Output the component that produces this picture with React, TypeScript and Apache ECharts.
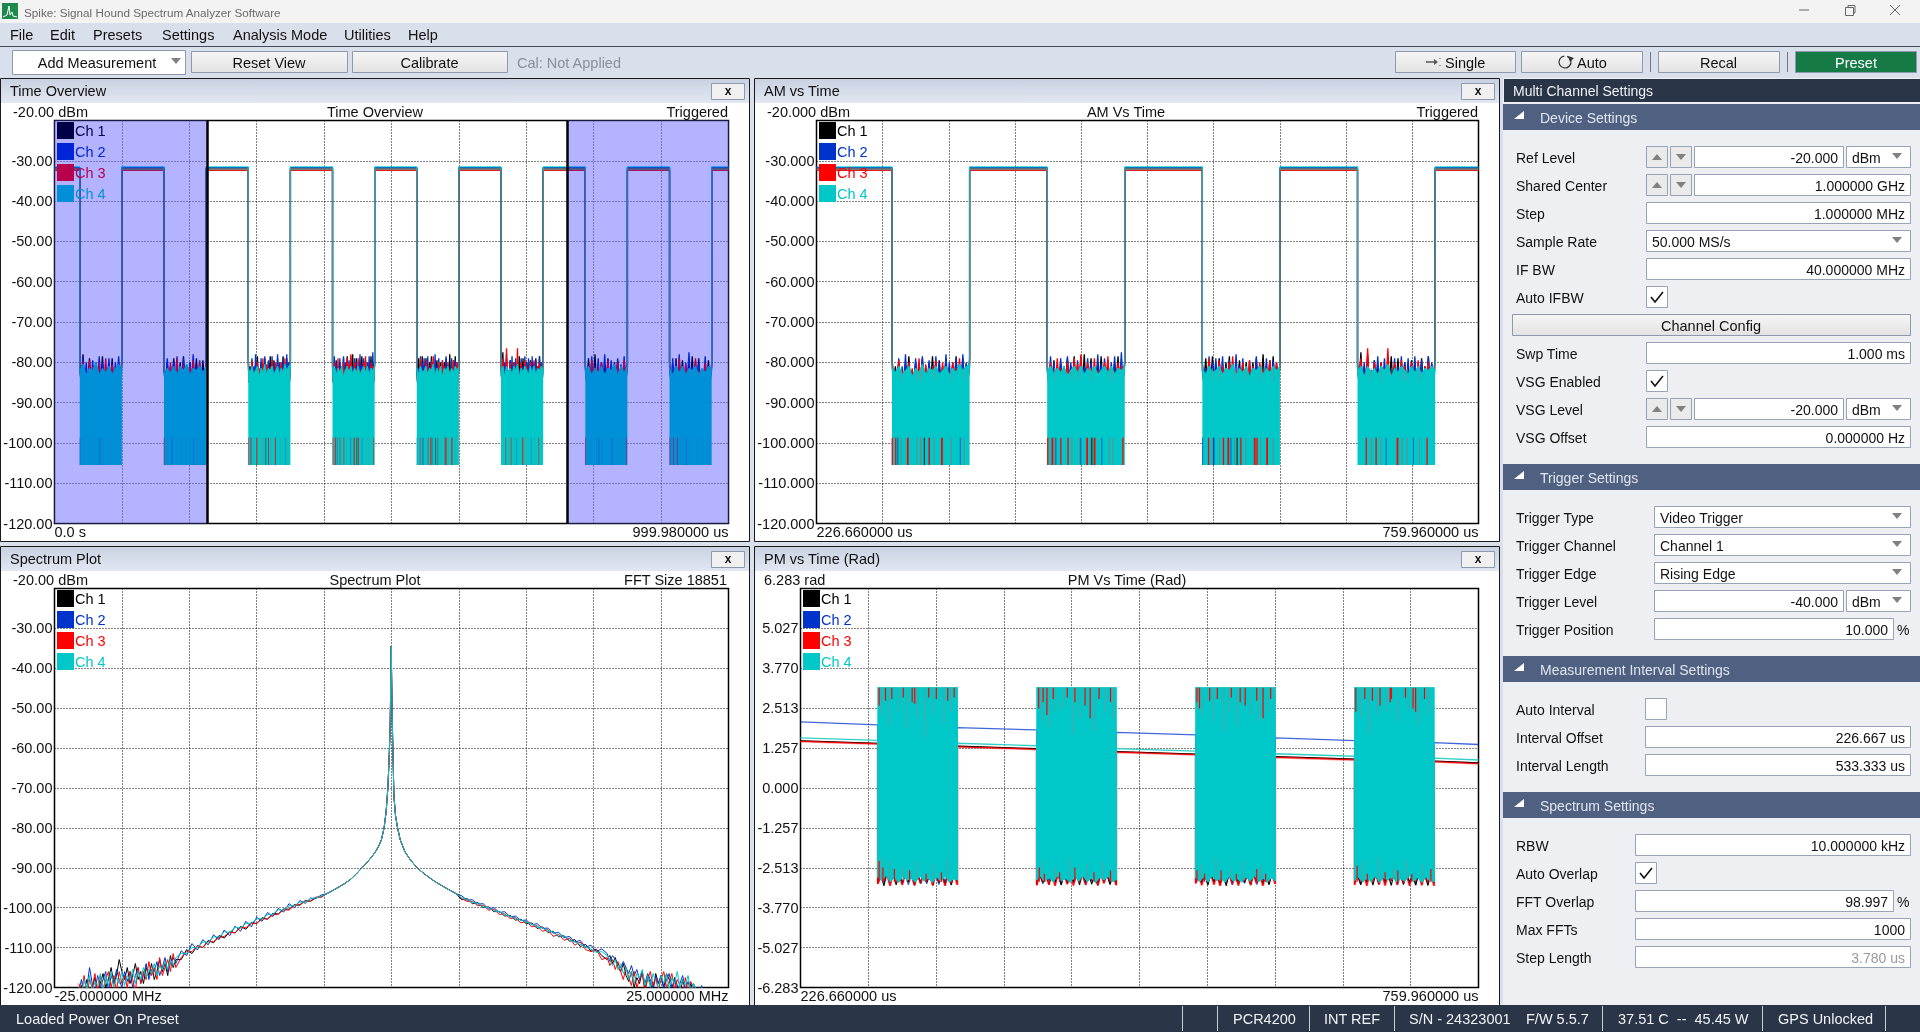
import React, { useEffect, useRef } from "react";
import * as echarts from "echarts";

const FONT = '"Liberation Sans", Arial, sans-serif';
const channelNames = ["Ch 1", "Ch 2", "Ch 3", "Ch 4"];
const clearColors = ["#000000", "#0033cc", "#ff0000", "#00c8c8", "#808080", "#7a7a7a"];
const shadeColors = ["#000048", "#0024d8", "#b8004c", "#0090d8", "#2f73b4", "#5a5a8a"];

// ---- time domain (dBm)
const burstStarts = [37.5, 162.5, 287.5, 412.5, 537.5, 662.5, 787.5, 912.5];
const burstWidth = 62.5;
const burstFloor = -105.5;
const burstTrough = -85;
const stripeTop = -98.7;
const highLevels = [-32.0, -31.7, -32.4, -31.5];
const bandLevel = -32.1;

const ch1Tops = [
  [-80, -78, -82, -79, -83, -80, -81, -78.5, -82, -80, -79, -83, -80, -79],
  [-82, -80, -81, -79, -83, -80, -78.5, -81, -80, -82, -79, -81, -79.5, -80],
  [-79, -81, -80, -83, -80.5, -78.5, -82, -80, -81.5, -79, -83, -80, -78.5, -82, -79.5, -81, -79, -82, -80, -78.5, -81.5, -79, -80.5, -79],
  [-80, -82, -79.5, -81, -80, -83, -79, -81, -78.5, -82, -80, -78, -81, -79, -83, -80, -78.5, -81, -79.5, -82, -80, -78.5, -81, -80],
  [-82, -79, -80.5, -78.5, -81, -79, -82, -80, -78.5, -81, -83, -79.5, -81, -80, -82.5, -80, -79, -81, -78, -81.5, -79.5, -78.5, -81, -80],
  [-80, -77.5, -81, -79, -82.5, -79.5, -81, -80, -83, -80, -78.5, -81, -79, -82, -80, -81, -79.5, -80, -82, -79, -81, -78.5, -80.5, -79],
  [-81, -79, -80.5, -78, -82, -80, -81, -79, -83, -80, -79.5, -82, -80, -80],
  [-80, -82, -79, -81, -79.5, -83, -80, -78.5, -81, -79, -82, -80, -79.5, -81],
];
const ch2Tops = [
  [-81, -79, -80, -82, -79.5, -81, -78.5, -80, -82, -79, -81, -80, -78.5, -80],
  [-81, -79, -82, -80, -78.5, -81, -79, -83, -80, -78, -81, -79.5, -82, -79],
  [-78.5, -82, -79, -81, -78, -80, -82, -79, -80.5, -78.5, -81, -79.5, -82, -78.5, -80, -81.5, -78, -80, -82, -79, -80.5, -78, -80, -81],
  [-81, -78.5, -80, -82, -79, -81, -78.5, -80, -82, -79.5, -78.5, -81, -79, -80, -82, -78, -80.5, -79, -81.5, -80, -78.5, -81, -77.5, -79.5],
  [-80, -81.5, -78.5, -80, -79, -82, -78.5, -81, -79.5, -80, -78, -81, -79, -82, -79.5, -81, -78.5, -80.5, -82, -79, -81, -79.5, -80, -81],
  [-81, -79, -80, -78, -82, -79.5, -78.5, -81, -79, -80.5, -82, -79, -81, -78.5, -80, -79, -81, -78.5, -80, -79.5, -81.5, -78.5, -80, -79],
  [-80, -82, -78.5, -81, -79, -80, -78, -81, -79.5, -82, -79, -80.5, -78.5, -81],
  [-81, -79, -80, -78, -82, -80, -77.5, -81, -79.5, -80, -82, -78.5, -81, -80],
];
const ch3Tops = [
  [-82, -80, -83, -79.5, -81, -84, -80, -82, -79, -83.5, -80.5, -82, -81, -80],
  [-81, -83, -80, -81.5, -79, -84, -80.5, -82, -81, -79.5, -83, -80, -82, -80],
  [-80, -83, -79.5, -82, -84, -80, -81.5, -83, -79, -82, -80.5, -84, -81, -79.5, -83, -80, -82, -84.5, -80, -81.5, -79, -83, -81, -80],
  [-82, -80, -84, -79, -81.5, -84.5, -80, -82, -79, -80.5, -78, -83, -80, -81.5, -79, -82, -83.5, -80, -78.5, -82, -84, -80, -81, -80],
  [-80.5, -83, -79, -82, -84, -79.5, -81, -83, -80, -78.5, -82, -84, -80, -83, -79.5, -81, -83, -80, -82, -84, -79.5, -82, -80, -81],
  [-81, -79, -83, -76.5, -82, -80, -84, -80, -81.5, -76.5, -82.5, -80, -83, -79.5, -81, -84, -80, -82.5, -79.5, -83, -81, -80, -82.5, -80],
  [-81, -84, -79.5, -83, -81, -80, -83, -79.5, -82, -84, -80, -82, -79.5, -81],
  [-80, -83, -81, -79, -84, -80.5, -82, -83, -79, -82, -84.5, -80, -82, -81],
];
const ch4Tops = [
  [-82, -80.5, -83, -81.5, -82, -80, -83, -81.5, -82.5, -81, -83, -81.5, -80.5, -82],
  [-83, -81.5, -82.5, -81, -83, -81, -82, -80.5, -83, -81.5, -82, -81, -82.5, -81],
  [-81.5, -82.5, -81, -83, -82, -81, -83.5, -81.5, -82.5, -80.5, -83, -81.5, -82, -81, -83, -82, -81, -83, -81.5, -82.5, -80.5, -82, -81, -80.5],
  [-82, -81, -83, -81.5, -82.5, -81, -83.5, -82, -81, -82.5, -81, -83, -81.5, -82.5, -81, -83, -82, -81, -82.5, -81, -83, -81.5, -82, -81],
  [-81.5, -83, -81, -82.5, -82, -81, -83, -81.5, -82, -80.5, -83, -81.5, -82.5, -81, -83.5, -81.5, -82, -81, -83, -81.5, -82.5, -81, -82, -81],
  [-82, -81, -83.5, -81, -82.5, -81.5, -83, -81, -82, -80.5, -83.5, -81.5, -82.5, -81, -82, -83, -81, -82.5, -81, -83, -81.5, -82, -81, -82],
  [-82, -81, -83, -81.5, -82.5, -81, -83, -81.5, -82, -80.5, -83, -81, -82.5, -81],
  [-81.5, -83, -81, -82.5, -81, -83, -81.5, -82, -81, -83, -81.5, -82.5, -81, -82],
];
// stripes at the foot of each burst: microseconds after the burst start
const redStripes = [
  [], [0.2], [0.2, 3, 12.5, 12.9, 30, 40, 40.4], [0.5, 4, 4.4, 11, 16.8, 32, 32.4, 38, 38.4, 61],
  [5, 17, 20.7, 21.1, 31, 42, 42.4, 44, 52, 52.4], [7, 15, 32, 32.4, 56], [0.3, 61], [0.4, 6, 12],
];
const grayStripes = [
  [6, 14, 20, 28, 34, 47, 55], [5, 11, 18, 25, 32, 39, 50, 58], [7.4, 20, 23, 23.4, 34, 47.6, 58], [6, 20, 26, 35, 50, 53],
  [8, 14, 26, 35, 47, 57], [11, 19, 36, 40, 50], [8, 16, 25, 38, 47, 54], [10, 18, 30, 41, 49, 57],
];
const blueStripes = [
  [0.1, 30], [12, 44], [4.7, 30, 55], [7, 27, 44], [0.2, 9, 9.4, 23], [23, 45], [20, 40], [25],
];
const blackStripes = [[], [], [26], [36], [28], [], [], []];

// ---- spectrum (MHz / dBm)
const leftFreqs = [-23.2, -23, -22.8, -22.6, -22.4, -22.2, -22, -21.8, -21.6, -21.4, -21.2, -21, -20.8, -20.6, -20.4, -20.2, -20, -19.8, -19.6, -19.4, -19.2, -19, -18.8, -18.6, -18.4, -18.2, -18, -17.8, -17.6, -17.4, -17.2, -17, -16.8, -16.6, -16.4, -16.2, -16,
  -15.6, -15.2, -14.8, -14.4, -14, -13.6, -13.2, -12.8, -12.4, -12, -11.6, -11.2, -10.8, -10.4, -10, -9.6, -9.2, -8.8, -8.4, -8, -7.6, -7.2, -6.8, -6.4, -6, -5.6, -5.2];
const centerFreqs = [-4.8, -4, -3.5, -3, -2.6, -2.25, -1.9, -1.6, -1.3, -1.1, -0.9, -0.75, -0.55, -0.4, -0.27, -0.18, -0.1, -0.05, -0.02, 0.01, 0.04, 0.07, 0.12, 0.18, 0.3, 0.45, 0.65, 1, 1.4, 1.9, 2.5, 3.2, 4, 4.8];
const centerLevels = [-96.5, -95, -94, -92.8, -91.5, -90.2, -89, -87.8, -86.5, -85.5, -84.2, -83, -80, -76, -70, -63, -55, -42, -34.5, -42, -50, -55, -63, -72, -77, -80, -83, -86, -88, -90, -91.7, -93.4, -95, -96.5];
const rightFreqs = [5.2, 5.6, 6, 6.4, 6.8, 7.2, 7.6, 8, 8.4, 8.8, 9.2, 9.6, 10, 10.4, 10.8, 11.2, 11.6, 12, 12.4, 12.8, 13.2, 13.6, 14, 14.4, 14.8, 15.2, 15.6,
  16, 16.2, 16.4, 16.6, 16.8, 17, 17.2, 17.4, 17.6, 17.8, 18, 18.2, 18.4, 18.6, 18.8, 19, 19.2, 19.4, 19.6, 19.8, 20, 20.2, 20.4, 20.6, 20.8, 21, 21.2, 21.4, 21.6, 21.8, 22, 22.2, 22.4, 22.6, 22.8, 23, 23.2];
const ch1Left = [-122, -119.5, -121, -118, -123, -120, -117.5, -121, -119, -116.5, -120, -118, -115, -119, -117, -113, -116, -118, -115, -119, -117, -114, -118, -116, -119, -115, -117, -114, -118, -116, -113, -116, -114, -117, -112, -115, -113,
  -113, -110.5, -111.5, -109.5, -110, -108.2, -108.8, -107, -107.6, -106, -106.3, -104.7, -105.4, -103.7, -104, -102.5, -102.9, -101.4, -101.6, -100.3, -100.4, -99.2, -99.4, -98.2, -98.4, -97.5, -97.2];
const ch2Left = [-121, -118, -122, -120, -115, -119, -121, -117, -120, -118, -116, -121, -117, -119, -115.5, -118, -120, -116, -118.5, -116, -120, -117, -115, -119, -117, -114, -118, -115.5, -116, -113.5, -117, -115, -112.5, -116, -114, -112.5, -114,
  -110.8, -112, -109, -110.6, -108, -109.3, -106.8, -108, -105.6, -107, -104.6, -105.9, -103.4, -104.8, -102.4, -103.4, -101.2, -102.2, -100.2, -101.1, -99, -100, -98.2, -98.9, -97.6, -97.7, -96.8];
const ch3Left = [-119, -121, -117, -122, -118, -120, -116.5, -122, -117, -120.5, -118, -116, -120, -117, -121, -116, -119, -117, -120, -116, -118, -121, -115, -119, -116, -118, -113.5, -117, -115, -118, -112.5, -117, -115, -113, -116, -111.5, -115,
  -112.5, -111, -111, -109.5, -110, -108.5, -108.5, -107.5, -107.2, -106.2, -106.3, -105, -105, -104, -103.9, -102.8, -102.8, -101.8, -101.6, -100.5, -100.6, -99.4, -99.2, -98.4, -98.3, -97.3, -97.4];
const ch4Left = [-120, -122, -118, -120.5, -117, -121, -118.5, -119.5, -116.5, -121, -117, -119.5, -116, -120, -117.5, -119, -116, -119.5, -117, -118, -115.5, -119, -116, -118, -115, -117.5, -115.5, -116.5, -114, -117, -114.5, -115.5, -113.5, -115.5, -113, -114.5, -112.5,
  -111.5, -111.5, -110, -110, -108.6, -108.7, -107.3, -107.4, -106, -106.2, -104.9, -105.1, -103.9, -103.9, -102.8, -102.8, -101.7, -101.7, -100.5, -100.6, -99.5, -99.5, -98.6, -98.6, -97.8, -97.5, -97.1];
const ch1Right = [-98, -97.7, -99, -98.7, -100, -99.8, -101, -100.9, -102.1, -101.9, -103.1, -102.9, -104, -103.8, -105.2, -104.8, -106.2, -105.9, -107.3, -107, -108.4, -108, -109.7, -109.2, -110.9, -110.4, -112,
  -113, -112, -114, -112.5, -115, -116, -114, -117, -118.5, -116, -120, -117.5, -119, -116, -120.5, -117, -119, -121, -116.5, -119, -117, -120, -116.5, -118, -121, -117.5, -119.5, -122, -118, -120.5, -122, -119, -121, -123, -120, -122, -121];
const ch2Right = [-97, -98.1, -98, -99.1, -99, -100.3, -100, -101.2, -101, -102.3, -102.1, -103.2, -103.1, -104.3, -104, -105.2, -105.1, -106.4, -106.2, -107.5, -107.2, -108.6, -108.2, -109.9, -109.4, -111, -110.3,
  -111.5, -113.5, -112, -113, -114, -115, -113.5, -115, -116.5, -114.5, -117, -115.5, -118, -116, -119, -116.5, -118, -120, -117, -119, -117, -120.5, -118, -116.5, -120, -118, -121, -119, -117, -120.5, -118.5, -121, -119, -120.5, -122, -119.5, -122];
const ch3Right = [-97.7, -98.4, -98.4, -99.5, -99.4, -100.6, -100.4, -101.7, -101.5, -102.7, -102.5, -103.8, -103.4, -104.8, -104.5, -105.9, -105.5, -107.2, -106.7, -108.2, -107.6, -109.4, -108.6, -110.5, -111, -110.5, -113,
  -112.5, -114.5, -113, -115.5, -113.5, -116, -118, -115, -117.5, -119.5, -116, -120, -118, -116.5, -121, -118, -116, -119.5, -117.5, -120.5, -118, -116, -120, -118.5, -116.5, -120.5, -118, -119.5, -122, -117.5, -121, -118.5, -120, -122.5, -120, -123, -121];
const ch4Right = [-97.5, -97.9, -98.7, -98.9, -99.8, -100, -100.8, -101, -101.8, -102.1, -102.7, -103.1, -103.6, -104.1, -104.8, -105.1, -105.8, -106.1, -107.1, -107.1, -108.1, -108.6, -109.2, -109.8, -110.4, -111.2, -111,
  -112, -113, -114.5, -113, -115.5, -114, -116.5, -115, -118, -116, -119, -116.5, -117.5, -115.5, -119.5, -117, -120, -116.5, -118.5, -120, -117, -119, -116.5, -120.5, -117.5, -119, -116, -120, -118, -119.5, -117, -121, -119, -120.5, -122, -120, -122];

// ---- phase (rad)
const pmTimes = [226.66, 287.5, 350, 412.5, 475, 537.5, 600, 662.5, 725, 759.96];
const pmCh1High = [1.49, 1.41, 1.32, 1.24, 1.15, 1.07, 0.99, 0.91, 0.85, 0.79];
const pmCh2High = [2.08, 1.99, 1.9, 1.83, 1.75, 1.67, 1.58, 1.49, 1.43, 1.37];
const pmCh3High = [1.47, 1.39, 1.3, 1.22, 1.13, 1.05, 0.97, 0.89, 0.83, 0.77];
const pmCh4High = [1.58, 1.5, 1.41, 1.33, 1.24, 1.16, 1.08, 1.0, 0.94, 0.88];
const pmBurstStarts = [287.5, 412.5, 537.5, 662.5];
const pmTopEdge = 3.16;
const pmTrough = -2.7;
const pmCh1Bottom = [
  [-3, -3.08, -2.95, -3.05, -3.02, -2.96, -3.06, -3, -2.97, -3.07, -2.98, -3.04, -3.06, -2.96],
  [-3.05, -2.98, -3.04, -2.96, -3.06, -3, -2.95, -3.05, -2.97, -3.03, -3.07, -2.96, -3.04, -3.05],
  [-2.95, -3, -3.06, -2.97, -3.04, -3.08, -2.96, -3.03, -2.98, -3.06, -2.96, -3.02, -3.05, -2.95],
  [-3, -3.05, -2.97, -3.06, -3, -2.96, -3.07, -2.98, -3.04, -2.96, -3.06, -3.02, -3.07, -3],
];
const pmCh2Bottom = [
  [-2.9, -2.98, -3.03, -2.88, -3, -3.05, -2.92, -2.99, -3.02, -2.9, -3.04, -2.95, -3, -2.92],
  [-2.95, -3.02, -2.9, -3, -3.04, -2.9, -3, -2.94, -3.05, -2.92, -3.01, -2.96, -3.03, -2.9],
  [-3, -2.9, -3.03, -2.96, -2.88, -3.02, -3.05, -2.92, -3, -2.94, -3.04, -2.9, -3.01, -2.96],
  [-2.92, -3.04, -2.96, -2.9, -3.03, -3, -2.92, -3.05, -2.94, -3.02, -3.06, -2.9, -3, -2.95],
];
const pmCh3Bottom = [
  [-3.02, -2.92, -3.08, -2.98, -3.05, -2.9, -3.07, -3, -2.94, -3.06, -2.96, -3.08, -3, -3.05],
  [-3.06, -2.95, -3.04, -3.08, -2.92, -3.03, -3.07, -2.96, -3.05, -2.9, -3.06, -3, -2.94, -3.06],
  [-3, -3.06, -2.92, -3.04, -3.08, -2.95, -3.03, -3.07, -2.93, -3.05, -3, -3.08, -2.96, -3.02],
  [-3.05, -2.96, -3.08, -2.94, -3.04, -3.07, -2.92, -3.05, -3, -3.08, -2.95, -3.06, -2.98, -3.08],
];
const pmCh4Bottom = [
  [-2.8, -2.92, -2.75, -2.95, -2.82, -2.97, -2.78, -2.9, -2.85, -2.96, -2.76, -2.93, -2.84, -2.97, -2.8, -2.94, -2.78, -2.96, -2.86, -2.9],
  [-2.9, -2.78, -2.95, -2.82, -2.96, -2.76, -2.92, -2.85, -2.97, -2.8, -2.93, -2.76, -2.95, -2.84, -2.97, -2.8, -2.9, -2.78, -2.95, -2.88],
  [-2.82, -2.94, -2.8, -2.96, -2.76, -2.92, -2.84, -2.97, -2.78, -2.93, -2.86, -2.96, -2.8, -2.92, -2.76, -2.95, -2.84, -2.97, -2.82, -2.93],
  [-2.92, -2.8, -2.96, -2.84, -2.94, -2.76, -2.97, -2.82, -2.9, -2.78, -2.96, -2.86, -2.93, -2.76, -2.95, -2.82, -2.97, -2.8, -2.92, -2.95],
];
// [microseconds after the burst start, far end of the streak]
const pmTopRed = [
  [[1, 2.6], [6, 2.75], [11, 2.8], [20, 2.85], [27, 2.7], [29, 2.65], [40, 2.85], [46, 2.8], [55, 2.75], [60, 2.85]],
  [[1.5, 2.5], [5, 2.7], [8, 2.3], [13, 2.8], [24, 2.85], [30, 2.7], [38, 2.6], [42, 2.2], [49, 2.8], [58, 2.7]],
  [[1, 2.7], [3, 2.5], [11, 2.75], [17, 2.8], [28, 2.85], [35, 2.7], [39, 2.6], [48, 2.75], [53, 2.2], [59, 2.8]],
  [[1, 2.4], [8, 2.8], [14, 2.75], [20, 2.6], [28, 2.7], [29, 2.8], [40, 2.85], [46, 2.5], [48, 2.4], [55, 2.8]],
];
const pmTopGray = [
  [[3, 2.3], [9, 2], [16, 2.4], [23, 1.9], [31, 2.2], [37, 1.6], [44, 2.3], [52, 2], [58, 2.4]],
  [[4, 2.1], [10, 1.9], [15, 2.4], [21, 2.5], [28, 1.7], [34, 2.2], [45, 1.8], [54, 2.4], [60, 2.2]],
  [[5, 2.3], [14, 2.1], [22, 1.8], [26, 2.4], [33, 2], [43, 2.3], [50, 2.1], [57, 2.4]],
  [[5, 2.2], [11, 1.7], [18, 2.3], [25, 2.4], [34, 2.1], [42, 2.5], [50, 2], [58, 2.3]],
];
const pmBottomRed = [
  [[1, -2.3], [4, -2.5], [13, -2.55], [25, -2.6], [38, -2.7], [50, -2.65]],
  [[2, -2.5], [6, -2.7], [18, -2.65], [30, -2.5], [45, -2.65], [58, -2.6]],
  [[1, -2.6], [7, -2.7], [20, -2.6], [32, -2.7], [48, -2.55], [55, -2.7]],
  [[2, -2.45], [10, -2.7], [24, -2.65], [34, -2.6], [45, -2.7], [60, -2.55]],
];
const pmBottomGray = [
  [[3, -2.2], [9, -2.3], [20, -2.5], [31, -2.3], [43, -2.4], [55, -2.2]],
  [[5, -2.3], [14, -2.5], [26, -2.2], [40, -2.4], [52, -2.3]],
  [[4, -2.4], [16, -2.2], [28, -2.5], [37, -2.3], [51, -2.45]],
  [[6, -2.3], [19, -2.2], [30, -2.5], [41, -2.3], [54, -2.4]],
];

// ---- axes
const overviewRange = [0, 999.98];
const intervalRange = [226.66, 759.96];
const overviewEdges = [226.67, 760];
const dbmTicks = { min: -120, max: -20, interval: 10 };
const radTicks = { min: -6.283, max: 6.283, interval: 1.25664 };
const radLabels = ["-6.283", "-5.027", "-3.770", "-2.513", "-1.257", "0.000", "1.257", "2.513", "3.770", "5.027", ""];
const spectrumRange = [-25, 25];

type Pt = [number, number | null];

function timeTrace(high: number, tops: number[][]): Pt[] {
  const pts: Pt[] = [[0, high]];
  burstStarts.forEach((s, b) => {
    pts.push([s, high]);
    const v = tops[b];
    const step = burstWidth / (v.length - 1);
    v.forEach((y, i) => {
      pts.push([s + step * i, y]);
      if (i < v.length - 1) pts.push([s + step * (i + 0.45), burstTrough]);
    });
    pts.push([s + burstWidth, high]);
  });
  pts.push([1000, high]);
  return pts;
}
function timeFill(tops: number[][]): Pt[] {
  const pts: Pt[] = [];
  burstStarts.forEach((s, b) => {
    const v = tops[b];
    v.forEach((y, i) => pts.push([s + (burstWidth * i) / (v.length - 1), y]));
    pts.push([s + burstWidth, null]);
  });
  return pts;
}
function highBand(level: number): Pt[] {
  const pts: Pt[] = [[0, level]];
  burstStarts.forEach((s) => {
    pts.push([s, level], [s, null], [s + burstWidth, level]);
  });
  pts.push([1000, level]);
  return pts;
}
function stripePts(list: number[][], base: number, top: number): Pt[] {
  const pts: Pt[] = [];
  list.forEach((l, b) =>
    l.forEach((o) => {
      const t = burstStarts[b] + o;
      pts.push([t, base], [t, top], [t, null]);
    })
  );
  return pts;
}
const within = (t: number, ranges: number[][]) => ranges.some((r) => t >= r[0] && t <= r[1]);
function sliceTrace(pts: Pt[], ranges: number[][], high: number): Pt[] {
  const out: Pt[] = [];
  ranges.forEach(([lo, hi]) => {
    out.push([lo, high]);
    pts.forEach((p) => {
      if (p[0] > lo && p[0] < hi) out.push(p);
    });
    out.push([hi, high], [hi, null]);
  });
  return out;
}
function line(name: string, axis: number, data: Pt[], color: string, width = 1.2, extra: any = {}) {
  return {
    type: "line", name, xAxisIndex: axis, yAxisIndex: axis, data, symbol: "none", showSymbol: false,
    silent: true, animation: false, connectNulls: false, clip: true,
    lineStyle: { color, width, opacity: extra.opacity ?? 1 }, itemStyle: { color },
    ...(extra.area ? { areaStyle: { color, opacity: 1, origin: extra.area[0] } } : {}),
    z: extra.z ?? 2,
  };
}
function timeSeries(axis: number, x0: number, ranges: number[][], pal: string[], overview: boolean) {
  const tops = [ch1Tops, ch2Tops, ch3Tops, ch4Tops];
  const shift = (pts: Pt[]): Pt[] => pts.map((p) => [p[0] - x0, p[1]]);
  const out: any[] = [];
  [0, 1, 2].forEach((c) => {
    out.push(line(channelNames[c], axis, shift(sliceTrace(timeTrace(highLevels[c], tops[c]), ranges, highLevels[c])), pal[c], 1.3));
  });
  out.push(line("band", axis, shift(sliceTrace(highBand(bandLevel), ranges, bandLevel)), pal[5], 1.8));
  out.push(line("Ch 4 burst", axis, shift(timeFill(ch4Tops).filter((p) => within(p[0], ranges))), pal[3], 1, { area: [burstFloor], z: 3 }));
  out.push(line(channelNames[3], axis, shift(sliceTrace(timeTrace(highLevels[3], ch4Tops), ranges, highLevels[3])), pal[3], 1.3, { opacity: 0.85, z: 4 }));
  const stripe = (list: number[][], base: number, top: number, col: string, w: number, opacity: number) =>
    out.push(line("foot", axis, shift(stripePts(list, base, top).filter((p) => within(p[0], ranges))), col, w, { opacity, z: 5 }));
  const w = overview ? 0.7 : 1;
  const op = overview ? 0.55 : 0.9;
  stripe(grayStripes, burstFloor, stripeTop, pal[4], w, op);
  stripe(blueStripes, burstFloor, stripeTop, pal[1], w, op * 0.8);
  stripe(blackStripes, burstFloor, stripeTop, pal[0], w, op);
  stripe(redStripes, burstFloor, stripeTop, pal[2], overview ? 0.8 : 1.3, overview ? 0.7 : 1);
  if (!overview) stripe(grayStripes, -84.5, -81.5, "#5f9f9f", 1, 0.9);
  return out;
}
function pmTrace(high: number[], bottoms: number[][]): Pt[] {
  const x0 = intervalRange[0];
  const pts: Pt[] = [];
  pmTimes.forEach((t, i) => {
    pts.push([t - x0, high[i]]);
    const b = pmBurstStarts.indexOf(t);
    if (b >= 0) {
      const step = burstWidth / (bottoms[b].length - 1);
      bottoms[b].forEach((y, k) => {
        pts.push([t - x0 + step * k, y]);
        if (k < bottoms[b].length - 1) pts.push([t - x0 + step * (k + 0.45), pmTrough]);
      });
    }
  });
  return pts;
}
function pmStreaks(list: number[][][], base: number): Pt[] {
  const x0 = intervalRange[0];
  const pts: Pt[] = [];
  list.forEach((l, b) =>
    l.forEach(([o, end]) => {
      const t = pmBurstStarts[b] + o - x0;
      pts.push([t, base], [t, end], [t, null]);
    })
  );
  return pts;
}
function pmSeries() {
  const x0 = intervalRange[0];
  const a = 3;
  const topFill: Pt[] = [];
  const botFill: Pt[] = [];
  pmBurstStarts.forEach((s, b) => {
    topFill.push([s - x0 - 0.4, pmTopEdge], [s - x0 + burstWidth + 0.5, pmTopEdge], [s - x0 + burstWidth + 0.5, null]);
    const v = pmCh4Bottom[b];
    v.forEach((y, i) => botFill.push([s - x0 - 0.4 + ((burstWidth + 0.9) * i) / (v.length - 1), y]));
    botFill.push([s - x0 + burstWidth + 0.5, null]);
  });
  return [
    line("Ch 3", a, pmTrace(pmCh3High, pmCh3Bottom), "#ff3030", 2.4, { opacity: 0.55 }),
    line("Ch 2", a, pmTrace(pmCh2High, pmCh2Bottom), "#0033cc", 1.3, { opacity: 0.75 }),
    line("Ch 1", a, pmTrace(pmCh1High, pmCh1Bottom), "#000000", 1.1),
    line("Ch 3 foot", a, pmTrace(pmCh3High, pmCh3Bottom), "#ff0000", 1),
    line("Ch 4", a, pmTrace(pmCh4High, pmCh4Bottom), "#30d0c8", 1.4),
    line("Ch 4 top", a, topFill, "#00c8c8", 1, { area: [0], z: 3 }),
    line("Ch 4 bottom", a, botFill, "#00c8c8", 1, { area: [0], z: 3 }),
    line("streak", a, pmStreaks(pmTopGray, pmTopEdge), "#5f9f9f", 1, { z: 5 }),
    line("streak", a, pmStreaks(pmBottomGray, -2.9), "#5f9f9f", 1, { z: 5 }),
    line("streak", a, pmStreaks(pmTopRed, pmTopEdge), "#ff0000", 1.2, { z: 5 }),
    line("streak", a, pmStreaks(pmBottomRed, -2.95), "#ff0000", 1.2, { z: 5 }),
  ];
}
function spectrumSeries() {
  const tails = [[ch1Left, ch1Right], [ch2Left, ch2Right], [ch3Left, ch3Right], [ch4Left, ch4Right]];
  return tails.map(([l, r], c) => {
    const pts: Pt[] = [];
    leftFreqs.forEach((f, i) => pts.push([f, l[i]]));
    centerFreqs.forEach((f, i) => pts.push([f, centerLevels[i]]));
    rightFreqs.forEach((f, i) => pts.push([f, r[i]]));
    return line(channelNames[c], 2, pts, clearColors[c], 1);
  });
}

// ---- chrome helpers
type El = any;
const els: El[] = [];
const BIG = 14.5;
const SMALL = 14;
function rect(x: number, y: number, w: number, h: number, fill: any, stroke?: string, z = -10, lw = 1) {
  els.push({ type: "rect", silent: true, z, shape: { x, y, width: w, height: h }, style: { fill, stroke: stroke ?? "none", lineWidth: stroke ? lw : 0 } });
}
function txt(s: string, x: number, y: number, align = "left", color = "#111", size = BIG, z = 10, weight = "normal") {
  els.push({
    type: "text", silent: true, z, x, y,
    style: { text: s, fill: color, fontSize: size, fontFamily: FONT, fontWeight: weight, align, verticalAlign: "middle", textAlign: align, textVerticalAlign: "middle" },
  });
}
function poly(points: number[][], fill: string, z = 6) {
  els.push({ type: "polygon", silent: true, z, shape: { points }, style: { fill } });
}
function pline(points: number[][], stroke: string, lw = 1, z = 6) {
  els.push({ type: "polyline", silent: true, z, shape: { points }, style: { stroke, lineWidth: lw, fill: "none" } });
}
const grad = (a: string, b: string) => new echarts.graphic.LinearGradient(0, 0, 0, 1, [{ offset: 0, color: a }, { offset: 1, color: b }]);

function button(x: number, y: number, w: number, h: number, label: string, cx?: number) {
  rect(x + 0.5, y + 0.5, w, h, grad("#f6f6f6", "#e2e2e2"), "#8f99ae", 5);
  if (label) txt(label, cx ?? x + w / 2, y + h / 2 + 1, cx ? "left" : "center");
}
function field(x: number, y: number, w: number, value = "", color = "#111", h = 21) {
  rect(x + 0.5, y + 0.5, w, h, "#ffffff", "#97a3b8", 5);
  if (value) txt(value, x + w - 5, y + h / 2 + 1, "right", color, SMALL);
}
function arrowDown(cx: number, cy: number) {
  poly([[cx - 5, cy - 3], [cx + 5, cy - 3], [cx, cy + 3]], "#808080");
}
function combo(x: number, y: number, w: number, value: string) {
  rect(x + 0.5, y + 0.5, w, 21, "#ffffff", "#97a3b8", 5);
  txt(value, x + 6, y + 12, "left", "#111", SMALL);
  arrowDown(x + w - 13, y + 10);
}
function spin(y: number, value: string, unit: boolean) {
  rect(1646.5, y + 0.5, 21, 21, "#eaeaea", "#97a3b8", 5);
  rect(1670.5, y + 0.5, 21, 21, "#eaeaea", "#97a3b8", 5);
  poly([[1652, y + 14], [1662, y + 14], [1657, y + 8]], "#808080");
  poly([[1676, y + 8], [1686, y + 8], [1681, y + 14]], "#808080");
  if (unit) {
    field(1694, y, 149, value);
    combo(1846, y, 64, "dBm");
  } else {
    field(1694, y, 216, value);
  }
}
function checkbox(x: number, y: number, checked: boolean) {
  rect(x + 0.5, y + 0.5, 21, 21, "#ffffff", "#97a3b8", 5);
  if (checked) pline([[x + 5, y + 11], [x + 9, y + 16], [x + 17, y + 6]], "#111", 1.6);
}
function section(y: number, label: string) {
  rect(1503, y, 417, 26, "#4f6080", undefined, -9);
  poly([[1524, y + 7], [1524, y + 15], [1514, y + 15]], "#ffffff");
  txt(label, 1540, y + 14, "left", "#dfe5ef", SMALL);
}
function panel(x: number, y: number, w: number, h: number, title: string, titleX: number) {
  rect(x + 0.5, y + 0.5, w, h, "#ffffff", "#1a1a1a", -10);
  rect(x + 1, y + 1, w - 1, 24, grad("#c9d1e2", "#e2e7f1"), undefined, -9);
  txt(title, titleX, y + 13);
  rect(x + w - 37.5, y + 5.5, 33, 16, "#f0f0f0", "#8f99ae", 5);
  txt("x", x + w - 21, y + 13, "center", "#111", 12, 10, "bold");
}

function buildChrome() {
  els.length = 0;
  rect(0, 0, 1920, 1032, "#d9dfeb", undefined, -20);
  rect(0, 0, 1920, 23, "#f3f3f3", undefined, -19);
  rect(0, 46, 1920, 1, "#444a58", undefined, -19);
  rect(2, 3, 16, 16, "#1b8a4c", undefined, 5);
  pline([[3, 17], [7, 15], [9, 6], [10, 15], [12, 12], [13, 16], [17, 17]], "#ffffff", 1);
  txt("Spike: Signal Hound Spectrum Analyzer Software", 24, 12, "left", "#6a6a6a", 11.7);
  pline([[1799, 10], [1809, 10]], "#666", 1);
  rect(1845.5, 7.5, 8, 8, "none", "#666", 6);
  pline([[1848, 7], [1848, 5.5], [1855, 5.5], [1855, 13], [1854, 13]], "#666", 1);
  pline([[1890, 5], [1900, 15]], "#666", 1);
  pline([[1900, 5], [1890, 15]], "#666", 1);

  const menus: [string, number][] = [["File", 10], ["Edit", 50], ["Presets", 93], ["Settings", 162], ["Analysis Mode", 233], ["Utilities", 344], ["Help", 408]];
  menus.forEach(([m, x]) => txt(m, x, 35));

  rect(12.5, 50.5, 173, 24, "#ffffff", "#8f99ae", 5);
  txt("Add Measurement", 97, 63, "center");
  arrowDown(176, 61);
  button(191, 51, 156, 21, "Reset View");
  button(352, 51, 155, 21, "Calibrate");
  txt("Cal: Not Applied", 517, 63, "left", "#8a8f9a");
  button(1395, 51, 120, 21, "Single", 1445);
  pline([[1426, 62], [1436, 62]], "#555", 1.5);
  poly([[1434, 59], [1438, 62], [1434, 65]], "#555");
  pline([[1440, 58], [1440, 59]], "#555", 1);
  pline([[1440, 65], [1440, 66]], "#555", 1);
  button(1521, 51, 121, 21, "Auto", 1577);
  els.push({ type: "arc", silent: true, z: 6, shape: { cx: 1565, cy: 62, r: 6, startAngle: -1.2, endAngle: 4.6 }, style: { stroke: "#333", fill: "none", lineWidth: 1.2 } });
  poly([[1568, 56], [1574, 58], [1570, 62]], "#333");
  rect(1650, 52, 1, 20, "#777", undefined, 5);
  button(1658, 51, 121, 21, "Recal");
  rect(1787, 52, 1, 20, "#777", undefined, 5);
  rect(1795.5, 51.5, 121, 21, "#167a46", "#8f99ae", 5);
  txt("Preset", 1856, 63, "center", "#ffffff");

  panel(0, 78, 749, 463, "Time Overview", 10);
  panel(754, 78, 745, 463, "AM vs Time", 764);
  panel(0, 546, 749, 459, "Spectrum Plot", 10);
  panel(754, 546, 745, 459, "PM vs Time (Rad)", 764);

  const capY = 112;
  txt("-20.00 dBm", 13, capY);
  txt("Time Overview", 375, capY, "center");
  txt("Triggered", 728, capY, "right");
  txt("-20.000 dBm", 767, capY);
  txt("AM Vs Time", 1126, capY, "center");
  txt("Triggered", 1478, capY, "right");
  const capY2 = 580;
  txt("-20.00 dBm", 13, capY2);
  txt("Spectrum Plot", 375, capY2, "center");
  txt("FFT Size 18851", 727, capY2, "right");
  txt("6.283 rad", 764, capY2);
  txt("PM Vs Time (Rad)", 1127, capY2, "center");

  // settings column
  rect(1503, 78, 417, 927, "#eeeff2", undefined, -10);
  rect(1504, 79, 416, 23, "#2b3548", undefined, -9);
  txt("Multi Channel Settings", 1513, 91, "left", "#eef1f6", SMALL);
  section(104, "Device Settings");
  const L = 1516;
  const lab = (s: string, y: number) => txt(s, L, y + 12, "left", "#111", SMALL);
  lab("Ref Level", 146); spin(146, "-20.000", true);
  lab("Shared Center", 174); spin(174, "1.000000 GHz", false);
  lab("Step", 202); field(1646, 202, 264, "1.000000 MHz");
  lab("Sample Rate", 230); combo(1646, 230, 264, "50.000 MS/s");
  lab("IF BW", 258); field(1646, 258, 264, "40.000000 MHz");
  lab("Auto IFBW", 286); checkbox(1646, 286, true);
  button(1512, 314, 398, 21, "Channel Config");
  lab("Swp Time", 342); field(1646, 342, 264, "1.000 ms");
  lab("VSG Enabled", 370); checkbox(1646, 370, true);
  lab("VSG Level", 398); spin(398, "-20.000", true);
  lab("VSG Offset", 426); field(1646, 426, 264, "0.000000 Hz");

  section(464, "Trigger Settings");
  lab("Trigger Type", 506); combo(1654, 506, 256, "Video Trigger");
  lab("Trigger Channel", 534); combo(1654, 534, 256, "Channel 1");
  lab("Trigger Edge", 562); combo(1654, 562, 256, "Rising Edge");
  lab("Trigger Level", 590); field(1654, 590, 189, "-40.000"); combo(1846, 590, 64, "dBm");
  lab("Trigger Position", 618); field(1654, 618, 239, "10.000"); txt("%", 1897, 630, "left", "#111", SMALL);

  section(656, "Measurement Interval Settings");
  lab("Auto Interval", 698); checkbox(1645, 698, false);
  lab("Interval Offset", 726); field(1645, 726, 265, "226.667 us");
  lab("Interval Length", 754); field(1645, 754, 265, "533.333 us");

  section(792, "Spectrum Settings");
  lab("RBW", 834); field(1635, 834, 275, "10.000000 kHz");
  lab("Auto Overlap", 862); checkbox(1635, 862, true);
  lab("FFT Overlap", 890); field(1635, 890, 258, "98.997"); txt("%", 1897, 902, "left", "#111", SMALL);
  lab("Max FFTs", 918); field(1635, 918, 275, "1000");
  lab("Step Length", 946); field(1635, 946, 275, "3.780 us", "#9a9a9a");

  // status bar
  rect(0, 1005, 1920, 27, "#2b3548", undefined, -8);
  const statusText: [string, number][] = [["Loaded Power On Preset", 16], ["PCR4200", 1233], ["INT REF", 1324], ["S/N - 24323001", 1409], ["F/W 5.5.7", 1526], ["37.51 C  --  45.45 W", 1618], ["GPS Unlocked", 1778]];
  statusText.forEach(([s, x]) => txt(s, x, 1019, "left", "#f0f2f6"));
  [1182, 1217, 1309, 1394, 1602, 1762, 1885].forEach((x) => rect(x, 1006, 1, 25, "#c8ccd4", undefined, -7));
  return els.slice();
}

function legend(left: number, top: number, pal: string[]) {
  return {
    left, top, orient: "vertical", icon: "rect", itemWidth: 17, itemHeight: 17, itemGap: 4, padding: 0, selectedMode: false, z: 6,
    textStyle: { fontSize: BIG, fontFamily: FONT, padding: [0, 0, 0, -4] },
    data: channelNames.map((name, i) => ({ name, icon: "rect", itemStyle: { color: pal[i], opacity: 1 }, lineStyle: { width: 0 }, textStyle: { color: pal[i], fontSize: BIG, fontFamily: FONT } })),
  };
}
function xAxis(gridIndex: number, min: number, max: number, interval: number, labels: string[]) {
  return {
    type: "value", gridIndex, min, max, interval,
    axisLine: { show: false }, axisTick: { show: false },
    splitLine: { show: true, lineStyle: { color: "#000", width: 1, type: [1, 2] } },
    axisLabel: {
      color: "#111", fontSize: BIG, fontFamily: FONT, margin: 1, alignMinLabel: "left", alignMaxLabel: "right", hideOverlap: false,
      formatter: (v: number) => (Math.abs(v - min) < 1e-6 ? labels[0] : Math.abs(v - max) < 1e-2 ? labels[1] : ""),
    },
  };
}
function yAxis(gridIndex: number, t: { min: number; max: number; interval: number }, fmt: (v: number) => string) {
  return {
    type: "value", gridIndex, min: t.min, max: t.max, interval: t.interval,
    axisLine: { show: false }, axisTick: { show: false },
    splitLine: { show: true, lineStyle: { color: "#000", width: 1, type: [1, 2] } },
    axisLabel: { color: "#111", fontSize: BIG, fontFamily: FONT, margin: 2, formatter: fmt },
  };
}
const dbmLabel = (decimals: number) => (v: number) => (v === dbmTicks.max ? "" : v.toFixed(decimals));
const radLabel = (v: number) => radLabels[Math.round((v - radTicks.min) / radTicks.interval)] ?? "";

export default function App() {
  const ref = useRef<HTMLDivElement>(null);
  useEffect(() => {
    if (!ref.current) return;
    const chart = echarts.init(ref.current, undefined, { renderer: "svg" });
    const gridBox = { show: true, backgroundColor: "#ffffff", borderColor: "#000000", borderWidth: 1.5 };
    const clearRanges = [overviewEdges];
    const shadeRanges = [[0, overviewEdges[0]], [overviewEdges[1], 1000]];
    const marks = {
      type: "line", name: "interval", xAxisIndex: 0, yAxisIndex: 0, data: [[0, -120]], symbol: "none", silent: true, z: 1, animation: false,
      lineStyle: { width: 0 },
      markArea: { silent: true, animation: false, itemStyle: { color: "rgba(103,103,255,0.5)" }, data: [[{ xAxis: 0 }, { xAxis: overviewEdges[0] }], [{ xAxis: overviewEdges[1] }, { xAxis: overviewRange[1] }]] },
      markLine: { silent: true, animation: false, symbol: "none", label: { show: false }, lineStyle: { color: "#000", width: 2.5, type: "solid" }, data: [{ xAxis: overviewEdges[0] }, { xAxis: overviewEdges[1] }] },
    };
    chart.setOption({
      animation: false,
      textStyle: { fontFamily: FONT },
      graphic: { elements: buildChrome() },
      grid: [
        { left: 54.5, top: 120.5, width: 674, height: 403, ...gridBox },
        { left: 816.5, top: 120.5, width: 662, height: 403, ...gridBox },
        { left: 54.5, top: 588.5, width: 674, height: 399, ...gridBox },
        { left: 800.5, top: 588.5, width: 678, height: 399, ...gridBox },
      ],
      xAxis: [
        xAxis(0, overviewRange[0], overviewRange[1], 99.998, ["0.0 s", "999.980000 us"]),
        xAxis(1, 0, 533.3, 53.33, ["226.660000 us", "759.960000 us"]),
        xAxis(2, spectrumRange[0], spectrumRange[1], 5, ["-25.000000 MHz", "25.000000 MHz"]),
        xAxis(3, 0, 533.3, 53.33, ["226.660000 us", "759.960000 us"]),
      ],
      yAxis: [yAxis(0, dbmTicks, dbmLabel(2)), yAxis(1, dbmTicks, dbmLabel(3)), yAxis(2, dbmTicks, dbmLabel(2)), yAxis(3, radTicks, radLabel)],
      legend: [legend(57, 122, shadeColors), legend(819, 122, clearColors), legend(57, 590, clearColors), legend(803, 590, clearColors)],
      series: [
        marks,
        ...timeSeries(0, 0, clearRanges, clearColors, true),
        ...timeSeries(0, 0, shadeRanges, shadeColors, true),
        ...timeSeries(1, intervalRange[0], [intervalRange], clearColors, false),
        ...spectrumSeries(),
        ...pmSeries(),
      ],
    });
    return () => chart.dispose();
  }, []);
  return <div ref={ref} style={{ position: "fixed", left: 0, top: 0, width: 1920, height: 1032 }} />;
}
